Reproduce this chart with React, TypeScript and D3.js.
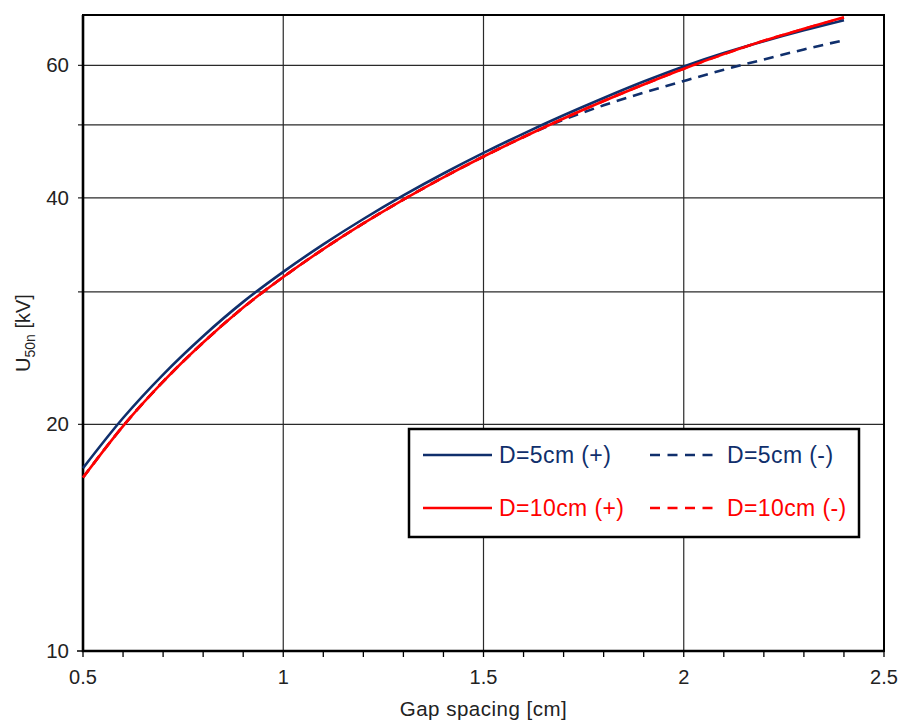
import React, { useEffect, useRef } from "react";
import * as d3 from "d3";

// gap spacing [cm]
const gaps = [0.5, 0.6, 0.7, 0.8, 0.9, 1.0, 1.1, 1.2, 1.3, 1.4, 1.5, 1.6, 1.7, 1.8, 1.9, 2.0, 2.1, 2.2, 2.3, 2.4];

// U50n [kV]
const d5pos = [17.5, 20.4, 23.3, 26.2, 29.1, 31.9, 34.7, 37.5, 40.3, 43.1, 45.9, 48.7, 51.5, 54.3, 57.1, 59.8, 62.3, 64.6, 66.8, 68.9];
const d5neg = [17.0, 19.9, 22.8, 25.7, 28.6, 31.4, 34.2, 37.0, 39.8, 42.6, 45.4, 48.2, 50.8, 53.1, 55.2, 57.2, 59.2, 61.1, 63.0, 64.8];
const d10pos = [17.0, 19.9, 22.8, 25.7, 28.6, 31.4, 34.2, 37.0, 39.8, 42.6, 45.4, 48.2, 51.0, 53.8, 56.6, 59.4, 62.1, 64.7, 67.1, 69.5];
const d10neg = [17.0, 19.9, 22.8, 25.7, 28.6, 31.4, 34.2, 37.0, 39.8, 42.6, 45.4, 48.2, 51.0, 53.8, 56.6, 59.4, 62.1, 64.7, 67.1, 69.4];

const xTicks = [0.5, 1, 1.5, 2, 2.5];
const yGrid = [20, 30, 40, 50, 60];
const yLabels = [10, 20, 40, 60];

const navy = "#102f6c";
const red = "#ff0000";

const series = [
  { name: "D=5cm (-)", values: d5neg, color: navy, dashed: true },
  { name: "D=10cm (-)", values: d10neg, color: red, dashed: true },
  { name: "D=5cm (+)", values: d5pos, color: navy, dashed: false },
  { name: "D=10cm (+)", values: d10pos, color: red, dashed: false },
];

const legendRows = [
  [series[2], series[0]],
  [series[3], series[1]],
];

export default function App() {
  const ref = useRef<SVGSVGElement>(null);

  useEffect(() => {
    const width = 901, height = 720;
    const left = 83, right = 884, top = 15, bottom = 651;
    const font = "'Liberation Sans', Arial, sans-serif";

    const svg = d3.select(ref.current);
    svg.selectAll("*").remove();
    svg.attr("width", width).attr("height", height);

    const x = d3.scaleLinear().domain([0.5, 2.5]).range([left, right]);
    const y = d3.scaleLog().domain([10, 70]).range([bottom, top]);

    svg.append("rect").attr("width", width).attr("height", height).attr("fill", "#fff");

    // grid
    svg.append("g").selectAll("line")
      .data(yGrid)
      .enter().append("line")
      .attr("x1", left - 5).attr("x2", right)
      .attr("y1", d => y(d)).attr("y2", d => y(d))
      .attr("stroke", "#2a2a2a").attr("stroke-width", 1.2);

    svg.append("g").selectAll("line")
      .data(xTicks.slice(1, -1))
      .enter().append("line")
      .attr("x1", d => x(d)).attr("x2", d => x(d))
      .attr("y1", top).attr("y2", bottom)
      .attr("stroke", "#2a2a2a").attr("stroke-width", 1.2);

    // x ticks, every 0.1
    const minor = d3.range(5, 26).map(i => i / 10);
    svg.append("g").selectAll("line")
      .data(minor)
      .enter().append("line")
      .attr("x1", d => x(d)).attr("x2", d => x(d))
      .attr("y1", bottom).attr("y2", bottom + 6)
      .attr("stroke", "#000").attr("stroke-width", 1.3);

    svg.append("line")
      .attr("x1", left - 6).attr("x2", left)
      .attr("y1", y(10)).attr("y2", y(10))
      .attr("stroke", "#000").attr("stroke-width", 1.5);

    // frame
    svg.append("rect")
      .attr("x", left).attr("y", top)
      .attr("width", right - left).attr("height", bottom - top)
      .attr("fill", "none").attr("stroke", "#000").attr("stroke-width", 2);
    svg.append("path")
      .attr("d", `M${left},${top}V${bottom}H${right}`)
      .attr("fill", "none").attr("stroke", "#000").attr("stroke-width", 2.6);

    // tick labels
    svg.append("g").selectAll("text")
      .data(xTicks)
      .enter().append("text")
      .attr("x", d => x(d)).attr("y", bottom + 33)
      .attr("text-anchor", "middle")
      .style("font-family", font).style("font-size", "20px").attr("fill", "#222")
      .text(d => String(d));

    svg.append("g").selectAll("text")
      .data(yLabels)
      .enter().append("text")
      .attr("x", left - 14).attr("y", d => y(d) + 7)
      .attr("text-anchor", "end")
      .style("font-family", font).style("font-size", "20.5px").attr("fill", "#222")
      .text(d => String(d));

    // axis titles
    svg.append("text")
      .attr("x", (left + right) / 2).attr("y", 716)
      .attr("text-anchor", "middle")
      .style("font-family", font).style("font-size", "20.5px")
      .style("letter-spacing", "0.5px").attr("fill", "#222")
      .text("Gap spacing [cm]");

    const yt = svg.append("text")
      .attr("transform", "translate(30,333) rotate(-90)")
      .attr("text-anchor", "middle")
      .style("font-family", font).style("font-size", "20px").attr("fill", "#222");
    yt.append("tspan").text("U");
    yt.append("tspan").attr("dy", 5).style("font-size", "14px").text("50n");
    yt.append("tspan").attr("dy", -5).text(" [kV]");

    // curves
    const line = d3.line<number>()
      .x((d, i) => x(gaps[i]))
      .y(d => y(d))
      .curve(d3.curveMonotoneX);

    svg.append("g").selectAll("path")
      .data(series)
      .enter().append("path")
      .attr("d", d => line(d.values))
      .attr("fill", "none")
      .attr("stroke", d => d.color)
      .attr("stroke-width", 2.6)
      .attr("stroke-dasharray", d => (d.dashed ? "10 7" : null));

    // legend
    const lg = svg.append("g");
    lg.append("rect")
      .attr("x", 409).attr("y", 429).attr("width", 450).attr("height", 108)
      .attr("fill", "#fff").attr("stroke", "#000").attr("stroke-width", 2.5);

    legendRows.forEach((row, r) => {
      const ly = 455 + r * 53;
      row.forEach((s, c) => {
        const x0 = c === 0 ? 423 : 650;
        const len = c === 0 ? 69 : 63;
        lg.append("line")
          .attr("x1", x0).attr("x2", x0 + len)
          .attr("y1", ly).attr("y2", ly)
          .attr("stroke", s.color).attr("stroke-width", 2.4)
          .attr("stroke-dasharray", s.dashed ? "10 7.5" : null);
        lg.append("text")
          .attr("x", c === 0 ? 499 : 727).attr("y", ly + 8)
          .style("font-family", font).style("font-size", "23px")
          .style("letter-spacing", "0.4px")
          .attr("fill", s.color)
          .text(s.name);
      });
    });
  }, []);

  return <svg ref={ref} style={{ position: "absolute", left: 0, top: 0 }} />;
}
